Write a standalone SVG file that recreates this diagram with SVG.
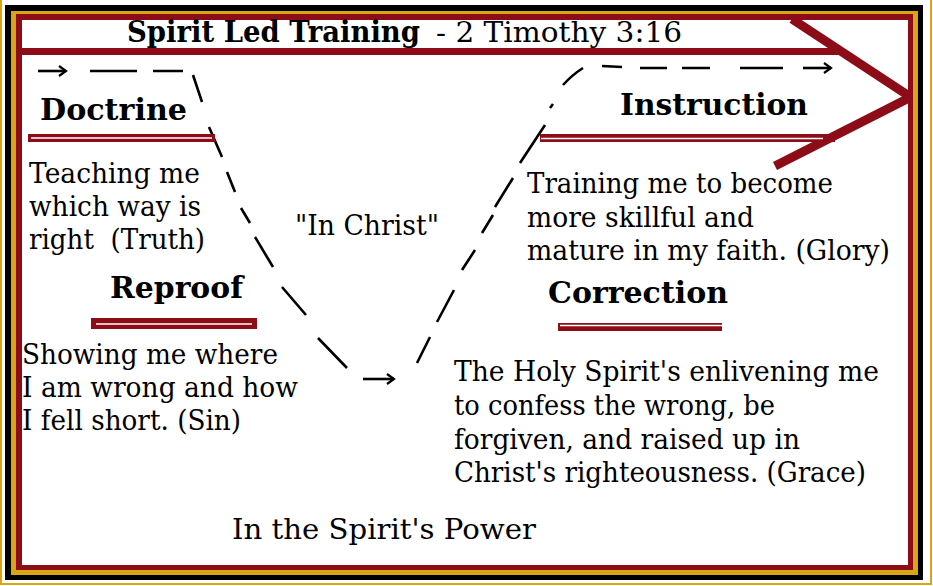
<svg xmlns="http://www.w3.org/2000/svg" width="933" height="586" viewBox="0 0 933 586">
<defs>
<style>
.t{font-family:"DejaVu Serif","Liberation Serif",serif;font-size:27.5px;fill:#000}
.h{font-family:"DejaVu Serif","Liberation Serif",serif;font-size:30px;font-weight:bold;fill:#000}
.mr{fill:#8c0c18}
.wl{stroke:#fff;stroke-width:1.5}
.d{fill:none;stroke:#000;stroke-width:2.6}
</style>
<marker id="ah" markerWidth="10" markerHeight="12" refX="8" refY="6" orient="auto" markerUnits="userSpaceOnUse">
<path d="M1,1 L8,6 L1,11" fill="none" stroke="#000" stroke-width="2.2"/>
</marker>
</defs>

<g id="frame">
<rect x="1" y="-5" width="930" height="589" fill="none" stroke="#d9a514" stroke-width="2"/>
<rect x="5" y="5" width="918" height="575" fill="#000"/>
<rect x="11" y="11" width="907" height="564" fill="#d9a514"/>
<rect x="16" y="14" width="897" height="556" class="mr"/>
<rect x="22" y="20" width="886" height="545" fill="#fff"/>
</g>

<g id="title">
<text class="h" x="127" y="42" font-size="27" textLength="293" lengthAdjust="spacingAndGlyphs">Spirit Led Training</text>
<text class="t" x="436" y="42" font-size="28" textLength="246" lengthAdjust="spacingAndGlyphs">- 2 Timothy 3:16</text>
</g>

<g id="banner">
<rect x="22" y="48" width="822" height="7" class="mr"/>
<line x1="792" y1="19" x2="909" y2="96" stroke="#8c0c18" stroke-width="9"/>
<line x1="909" y1="98" x2="775" y2="166" stroke="#8c0c18" stroke-width="9"/>
</g>

<g id="connectors">
<path class="d" d="M38,71 L66,71" marker-end="url(#ah)"/>
<path class="d" d="M90,71 L137,71 M153,71 L183,71"/>
<path class="d" d="M193,75 L202,102 M209,127 L222,157 M227,172 L235,192 M241,208 L250,223 M255,237 L273,267 M282,287 L306,315 M318,338 L347,368"/>
<path class="d" d="M363,379 L394,379" marker-end="url(#ah)" stroke-width="3"/>
<path class="d" d="M417,363 L430,337 M437,322 L454,290 M462,270 L475,250 M482,233 L493,215 M495,207 L513,178 M520,163 L545,125 M550,108 L553,104 M563,85 Q572,75 583,68"/>
<path class="d" d="M602,66 L622,67 M640,68 L667,68 M682,68 L710,68 M740,68 L783,68"/>
<path class="d" d="M803,68 L831,68" marker-end="url(#ah)"/>
</g>

<g id="doctrine">
<text class="h" x="40" y="120" textLength="147" lengthAdjust="spacingAndGlyphs">Doctrine</text>
<rect x="28" y="134" width="187" height="8" class="mr"/>
<line x1="31" y1="138" x2="212" y2="138" class="wl"/>
<text class="t" x="29" y="183" textLength="171" lengthAdjust="spacingAndGlyphs">Teaching me</text>
<text class="t" x="29" y="216" textLength="172" lengthAdjust="spacingAndGlyphs">which way is</text>
<text class="t" x="29" y="249" textLength="176" lengthAdjust="spacingAndGlyphs" xml:space="preserve">right  (Truth)</text>
</g>

<g id="reproof">
<text class="h" x="110" y="298" textLength="133" lengthAdjust="spacingAndGlyphs">Reproof</text>
<rect x="91" y="318" width="166" height="11" class="mr"/>
<line x1="96" y1="324" x2="252" y2="324" class="wl"/>
<text class="t" x="22" y="364" textLength="256" lengthAdjust="spacingAndGlyphs">Showing me where</text>
<text class="t" x="22" y="397" textLength="276" lengthAdjust="spacingAndGlyphs">I am wrong and how</text>
<text class="t" x="22" y="430" textLength="219" lengthAdjust="spacingAndGlyphs">I fell short. (Sin)</text>
</g>

<g id="in-christ">
<text class="t" x="295" y="235" textLength="144" lengthAdjust="spacingAndGlyphs">"In Christ"</text>
</g>

<g id="instruction">
<text class="h" x="620" y="115" textLength="188" lengthAdjust="spacingAndGlyphs">Instruction</text>
<rect x="540" y="134" width="295" height="8" class="mr"/>
<line x1="541" y1="138.5" x2="823" y2="138.5" class="wl"/>
<text class="t" x="527" y="193" textLength="306" lengthAdjust="spacingAndGlyphs">Training me to become</text>
<text class="t" x="527" y="227" textLength="227" lengthAdjust="spacingAndGlyphs">more skillful and</text>
<text class="t" x="527" y="260" textLength="363" lengthAdjust="spacingAndGlyphs">mature in my faith. (Glory)</text>
</g>

<g id="correction">
<text class="h" x="548" y="303" textLength="180" lengthAdjust="spacingAndGlyphs">Correction</text>
<rect x="558" y="323" width="164" height="8" class="mr"/>
<line x1="560" y1="325.5" x2="722" y2="325.5" class="wl"/>
<text class="t" x="454" y="381" textLength="425" lengthAdjust="spacingAndGlyphs">The Holy Spirit's enlivening me</text>
<text class="t" x="454" y="415" textLength="321" lengthAdjust="spacingAndGlyphs">to confess the wrong, be</text>
<text class="t" x="454" y="449" textLength="346" lengthAdjust="spacingAndGlyphs">forgiven, and raised up in</text>
<text class="t" x="454" y="482" textLength="412" lengthAdjust="spacingAndGlyphs">Christ's righteousness. (Grace)</text>
</g>

<g id="power">
<text class="t" x="232" y="539" font-size="30" textLength="304" lengthAdjust="spacingAndGlyphs">In the Spirit's Power</text>
</g>
</svg>
